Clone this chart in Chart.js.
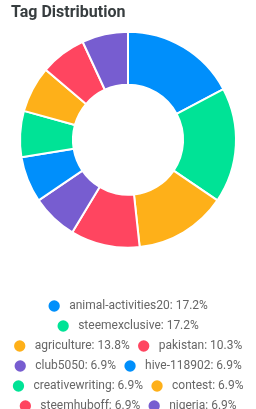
<!DOCTYPE html>
<html>
<head>
<meta charset="utf-8">
<script src="https://cdn.jsdelivr.net/npm/chart.js@4.4.1/dist/chart.umd.min.js"></script>
<style>
  html, body { margin: 0; padding: 0; overflow: hidden; background: #fff; }
  #wrap { position: relative; width: 256px; height: 422px; }
</style>
</head>
<body>
<div id="wrap"><canvas id="myChart"></canvas></div>
<script>
var tags = [
    "animal-activities20",
    "steemexclusive",
    "agriculture",
    "pakistan",
    "club5050",
    "hive-118902",
    "creativewriting",
    "contest",
    "steemhuboff",
    "nigeria"
];
var counts = [5, 5, 4, 3, 2, 2, 2, 2, 2, 2];
var colors = [
    "#008FFB", "#00E396", "#FEB019", "#FF4560", "#775DD0",
    "#008FFB", "#00E396", "#FEB019", "#FF4560", "#775DD0"
];

var total = counts.reduce(function (a, b) { return a + b; }, 0);

// nudge the title in from the left edge
var titleShift = {
    id: 'titleShift',
    afterLayout: function (chart) {
        if (chart.titleBlock) chart.titleBlock.left = 11;
    }
};

var ctx = document.getElementById("myChart");
var myDoughnutChart = new Chart(ctx, {
    type: 'doughnut',
    data: {
        labels: tags,
        datasets: [{
            data: counts,
            backgroundColor: colors,
            borderColor: '#fff',
            borderWidth: 2
        }]
    },
    options: {
        responsive: true,
        maintainAspectRatio: false,
        animation: false,
        cutout: '51%',
        radius: 108,
        plugins: {
            title: {
                display: true,
                text: 'Tag Distribution',
                align: 'start',
                color: '#373d3f',
                font: { family: 'Roboto', size: 16, weight: 'bold' },
                padding: { top: 3.5, bottom: 7.3 }
            },
            tooltip: { enabled: false },
            legend: {
                position: 'bottom',
                align: 'center',
                title: {
                    display: true,
                    text: '',
                    font: { size: 10 },
                    padding: { top: 30.5, bottom: 0 }
                },
                labels: {
                    usePointStyle: true,
                    boxHeight: 8,
                    boxWidth: 12,
                    padding: 8,
                    color: '#373d3f',
                    font: { family: 'Roboto', size: 12 },
                    generateLabels: function (chart) {
                        return tags.map(function (t, i) {
                            return {
                                text: ' ' + t + ': ' + (counts[i] / total * 100).toFixed(1) + '%',
                                fillStyle: colors[i],
                                strokeStyle: colors[i],
                                lineWidth: 0,
                                pointStyle: 'circle',
                                hidden: false,
                                index: i
                            };
                        });
                    }
                }
            }
        }
    },
    plugins: [titleShift]
});
</script>
</body>
</html>
